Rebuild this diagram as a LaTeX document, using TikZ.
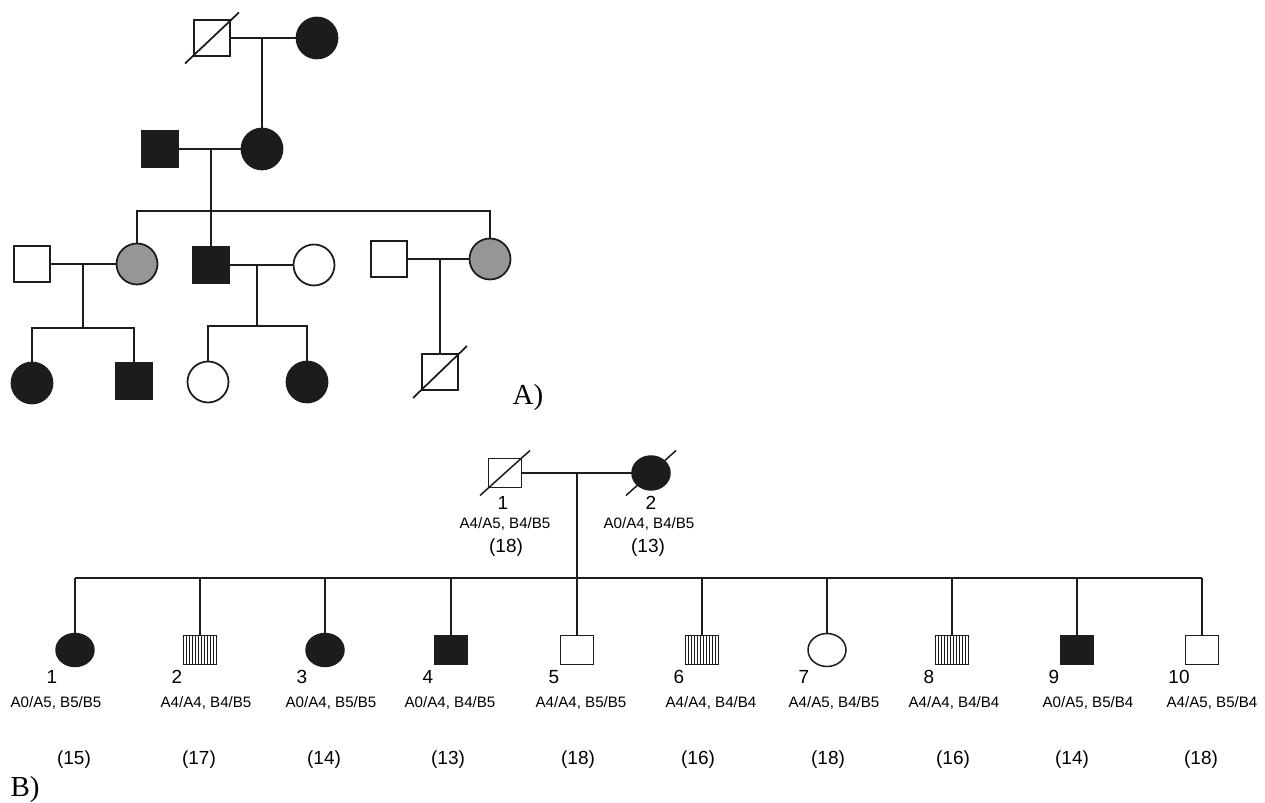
\documentclass[tikz,border=0pt]{standalone}
\usepackage{fontspec}
\setmainfont{Liberation Serif}
\setsansfont{Liberation Sans}
\usetikzlibrary{shapes.geometric}

\definecolor{pedblack}{RGB}{28,28,28}
\definecolor{pedgrey}{RGB}{150,150,150}

\def\pedSqA{0.72cm}
\def\pedCiA{0.82cm}
\def\pedSqBw{0.66cm}
\def\pedSqBh{0.58cm}
\def\pedElBw{0.76cm}
\def\pedElBh{0.66cm}
\def\pedHatch{0.06cm}

\tikzset{
    ped/.style = {draw = pedblack, line width = 0.85pt, inner sep = 0pt, outer sep = 0pt},
    pedline/.style = {draw = pedblack, line width = 0.85pt},
    maleA/.style = {ped, line width = 1pt, rectangle, minimum size = \pedSqA},
    femaleA/.style = {ped, line width = 1pt, circle, minimum size = \pedCiA},
    maleB/.style = {ped, rectangle, minimum width = \pedSqBw, minimum height = \pedSqBh},
    femaleB/.style = {ped, ellipse, minimum width = \pedElBw, minimum height = \pedElBh},
    affected/.style = {fill = pedblack},
    carrier/.style = {fill = pedgrey},
    unaffected/.style = {fill = white},
    hatched/.style = {fill = white, path picture = {
        \foreach \k in {1,...,10} {
            \draw [draw = pedblack, line width = 0.45pt]
            ([xshift = \k*\pedHatch]path picture bounding box.south west)
            -- ([xshift = \k*\pedHatch]path picture bounding box.north west)
            ;
        }
    }},
    bFaff/.style = {femaleB, affected},
    bFun/.style = {femaleB, unaffected},
    bMaff/.style = {maleB, affected},
    bMun/.style = {maleB, unaffected},
    bMhat/.style = {maleB, hatched},
    idlabel/.style = {font = \sffamily\fontsize{10.8}{12}\selectfont, inner sep = 0pt},
    gtlabel/.style = {font = \sffamily\fontsize{8.6}{10}\selectfont, inner sep = 0pt},
    panel/.style = {font = \fontsize{16.5}{18}\selectfont, inner sep = 0pt, anchor = base},
}

\newcommand\deadmark[3]{%
    \draw [pedline] ([shift = {(-#2,#3)}]#1.center) -- ([shift = {(#2,-#3)}]#1.center);%
}

\begin{document}
\begin{tikzpicture}[x = 0.02cm, y = -0.02cm]
            \useasboundingbox (0,0) rectangle (1265,803);
            %% panel A, generations I and II
            \node [maleA, unaffected] (aI1) at (212,38) {};
            \node [femaleA, affected] (aI2) at (317,38) {};
            \node [maleA, affected] (aII1) at (160,149) {};
            \node [femaleA, affected] (aII2) at (262,149) {};
            %% panel A, generation III
            \node [maleA, unaffected] (aIII1) at (32,264) {};
            \node [femaleA, carrier] (aIII2) at (137,264) {};
            \node [maleA, affected] (aIII3) at (211,265) {};
            \node [femaleA, unaffected] (aIII4) at (314,265) {};
            \node [maleA, unaffected] (aIII5) at (389,259) {};
            \node [femaleA, carrier] (aIII6) at (490,259) {};
            %% panel A, generation IV
            \node [femaleA, affected] (aIV1) at (32,383) {};
            \node [maleA, affected] (aIV2) at (134,381) {};
            \node [femaleA, unaffected] (aIV3) at (208,382) {};
            \node [femaleA, affected] (aIV4) at (307,382) {};
            \node [maleA, unaffected] (aIV5) at (440,372) {};
            \tikzset{pedline/.append style = {line width = 1pt}}
            \deadmark{aI1}{27}{25.5}
            \deadmark{aIV5}{27}{26}
            \draw
            (262,38) coordinate (mI)
            (211,149) coordinate (mII)
            (211,211) coordinate (sibII)
            (83,264) coordinate (mIII1)
            (83,328) coordinate (sibIII1)
            (257,265) coordinate (mIII2)
            (257,326) coordinate (sibIII2)
            (440,259) coordinate (mIII3)
            ;
            \draw [pedline] (aI1) -- (aI2);
            \draw [pedline] (mI) -- (aII2.north);
            \draw [pedline] (aII1) -- (aII2);
            \draw [pedline] (mII) -- (aIII3.north);
            \draw [pedline] (aIII2.north) |- (sibII) -| (aIII6.north);
            \draw [pedline] (aIII1) -- (aIII2);
            \draw [pedline] (mIII1) -- (sibIII1);
            \draw [pedline] (aIV1.north) |- (sibIII1) -| (aIV2.north);
            \draw [pedline] (aIII3) -- (aIII4);
            \draw [pedline] (mIII2) -- (sibIII2);
            \draw [pedline] (aIV3.north) |- (sibIII2) -| (aIV4.north);
            \draw [pedline] (aIII5) -- (aIII6);
            \draw [pedline] (mIII3) -- (aIV5.north);
            \tikzset{pedline/.append style = {line width = 0.85pt}}
            \node [panel] (labA) at (528,405) {A)};
            %% panel B, parents
            \node [maleB, unaffected] (bI1) at (505,473) {};
            \node [femaleB, affected, minimum height = 0.68cm] (bI2) at (651,473) {};
            \deadmark{bI1}{25}{22.5}
            \deadmark{bI2}{25}{22.5}
            \draw
            (577,473) coordinate (mB)
            (577,578) coordinate (sibB)
            ;
            \draw [pedline] (bI1) -- (bI2);
            \draw [pedline] (mB) -- (sibB);
            \node [idlabel] (nbI1) at (503,503) {1};
            \node [gtlabel] (gbI1) at (505,524) {A4/A5, B4/B5};
            \node [idlabel] (sbI1) at (506,548) {(18)};
            \node [idlabel] (nbI2) at (651,503) {2};
            \node [gtlabel] (gbI2) at (649,524) {A0/A4, B4/B5};
            \node [idlabel] (sbI2) at (648,548) {(13)};
            %% panel B, offspring
            \foreach \n/\x/\st/\gx/\gt/\sx/\sc in {
                1/75/bFaff/-19/{A0/A5, B5/B5}/-1/15,
                2/200/bMhat/6/{A4/A4, B4/B5}/-1/17,
                3/325/bFaff/6/{A0/A4, B5/B5}/-1/14,
                4/451/bMaff/-1/{A0/A4, B4/B5}/-3/13,
                5/577/bMun/4/{A4/A4, B5/B5}/1/18,
                6/702/bMhat/9/{A4/A4, B4/B4}/-4/16,
                7/827/bFun/7/{A4/A5, B4/B5}/1/18,
                8/952/bMhat/2/{A4/A4, B4/B4}/1/16,
                9/1077/bMaff/11/{A0/A5, B5/B4}/-5/14,
                10/1202/bMun/10/{A4/A5, B5/B4}/-1/18} {
                \node [\st] (bII\n) at (\x,650) {};
                \node [idlabel] (nbII\n) at (\x-23,677) {\n};
                \node [gtlabel] (gbII\n) at (\x+\gx,703) {\gt};
                \node [idlabel] (sbII\n) at (\x+\sx,760) {(\sc)};
                \draw [pedline] (bII\n.north) -- (bII\n.north |- sibB);
            }
            \draw [pedline] (bII1.north |- sibB) -- (bII10.north |- sibB);
            \node [panel] (labB) at (25,796) {B)};
        \end{tikzpicture}
\end{document}
